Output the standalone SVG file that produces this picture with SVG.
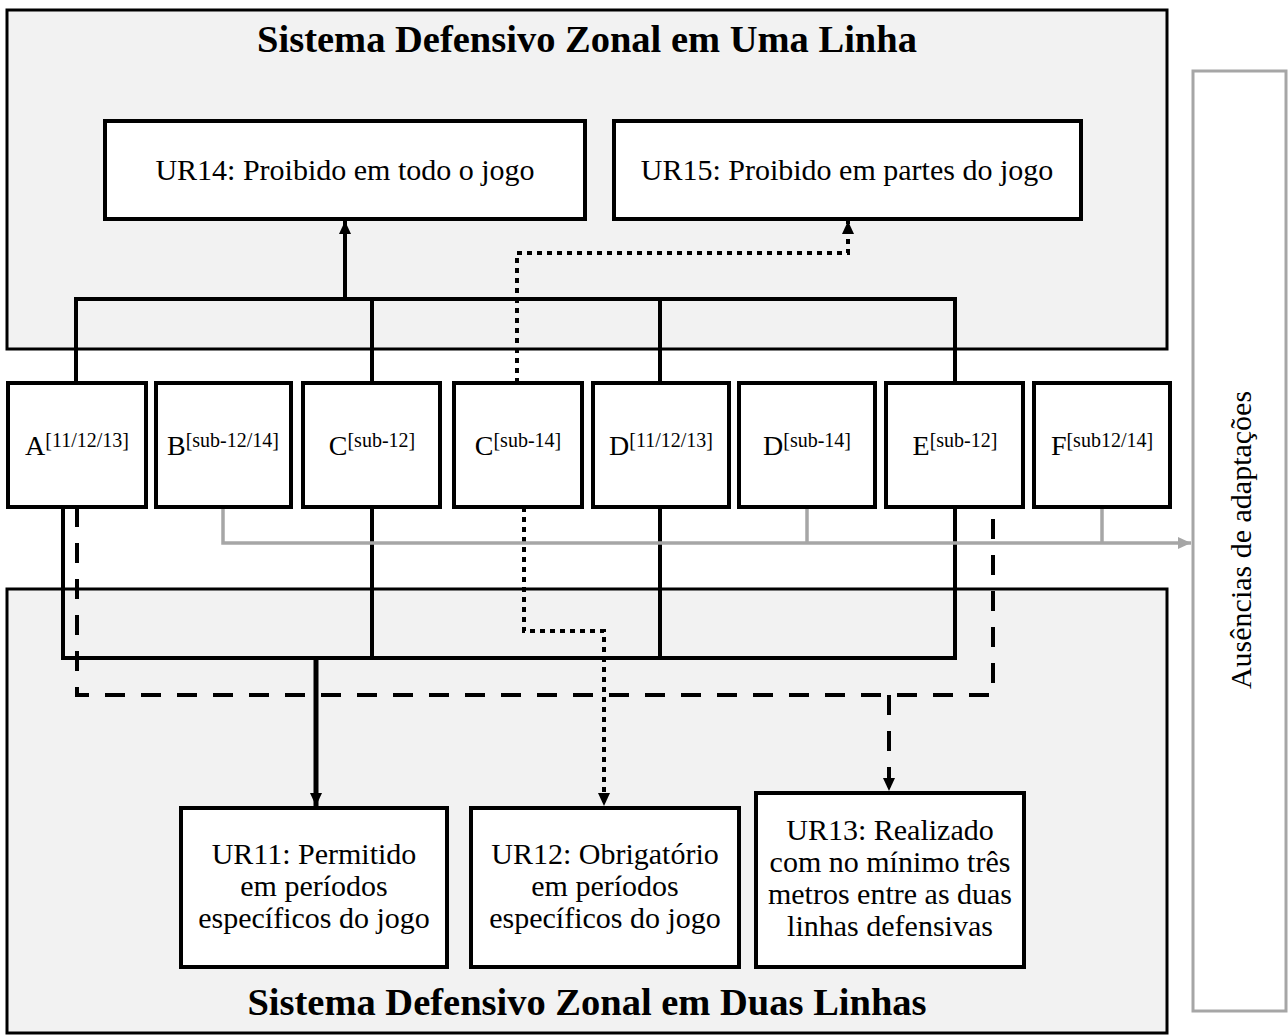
<svg xmlns="http://www.w3.org/2000/svg" width="1288" height="1035" viewBox="0 0 1288 1035">
<defs>
<style>
.container{fill:#f2f2f2;stroke:#000;stroke-width:3}
.box{fill:#fff;stroke:#000;stroke-width:4}
.t{font-family:"Liberation Serif","Times New Roman",serif;fill:#000;text-anchor:middle}
.title{font-size:38.5px;font-weight:bold}
.lbl{font-size:30px}
.nl{font-size:28px}
.sup{font-size:20px}
.solid{fill:none;stroke:#000;stroke-width:4}
.thick{fill:none;stroke:#000;stroke-width:5}
.dot{fill:none;stroke:#000;stroke-width:4;stroke-dasharray:5 5}
.dash{fill:none;stroke:#000;stroke-width:4;stroke-dasharray:20 16}
.gray{fill:none;stroke:#a6a6a6;stroke-width:3.5}
</style>
<marker id="ah" markerUnits="userSpaceOnUse" markerWidth="14" markerHeight="14" refX="13" refY="7" orient="auto"><path d="M0,1 L13,7 L0,13 z" fill="#000"/></marker>
<marker id="ahg" markerUnits="userSpaceOnUse" markerWidth="14" markerHeight="14" refX="13" refY="7" orient="auto"><path d="M0,1 L13,7 L0,13 z" fill="#a6a6a6"/></marker>
</defs>
<rect width="1288" height="1035" fill="#fff"/>
<g id="uma-linha">
<rect class="container" x="7" y="10" width="1160" height="339"/>
<text class="t title" x="587" y="52">Sistema Defensivo Zonal em Uma Linha</text>
</g>
<g id="duas-linhas">
<rect class="container" x="7" y="589" width="1160" height="444"/>
<text class="t title" x="587" y="1015">Sistema Defensivo Zonal em Duas Linhas</text>
</g>
<g id="ausencias">
<rect x="1193" y="71" width="93" height="940" fill="#fff" stroke="#a6a6a6" stroke-width="3"/>
<text class="t lbl" transform="translate(1251,540) rotate(-90)">Ausências de adaptações</text>
</g>
<g id="connectors">
<path class="solid" d="M76,383 V299 H955 V383 M372,299 V383 M660,299 V383"/>
<path class="solid" d="M345,299 V221" marker-end="url(#ah)"/>
<path class="dot" d="M517,383 V253 H848 V221" marker-end="url(#ah)"/>
<path class="solid" d="M63,507 V658 H955 V507 M372,507 V658 M660,507 V658"/>
<path class="thick" d="M316,658 V806" marker-end="url(#ah)"/>
<path class="dash" d="M77,507 V695 H993 V507"/>
<path class="dash" d="M889,695 V791" marker-end="url(#ah)"/>
<path class="dot" d="M524,507 V631 H604 V806" marker-end="url(#ah)"/>
<path class="gray" d="M223,507 V543 H1191" marker-end="url(#ahg)"/>
<path class="gray" d="M807,507 V543 M1102,507 V543"/>
</g>
<g id="ur14"><rect class="box" x="105" y="121" width="480" height="98"/><text class="t lbl" x="345" y="180">UR14: Proibido em todo o jogo</text></g>
<g id="ur15"><rect class="box" x="614" y="121" width="467" height="98"/><text class="t lbl" x="847" y="180">UR15: Proibido em partes do jogo</text></g>
<g id="nA"><rect class="box" x="8" y="383" width="138" height="124"/><text class="t nl" x="77" y="455">A<tspan class="sup" dy="-8">[11/12/13]</tspan></text></g>
<g id="nB"><rect class="box" x="156" y="383" width="135" height="124"/><text class="t nl" x="223" y="455">B<tspan class="sup" dy="-8">[sub-12/14]</tspan></text></g>
<g id="nC12"><rect class="box" x="303" y="383" width="137" height="124"/><text class="t nl" x="372" y="455">C<tspan class="sup" dy="-8">[sub-12]</tspan></text></g>
<g id="nC14"><rect class="box" x="454" y="383" width="128" height="124"/><text class="t nl" x="518" y="455">C<tspan class="sup" dy="-8">[sub-14]</tspan></text></g>
<g id="nD11"><rect class="box" x="593" y="383" width="136" height="124"/><text class="t nl" x="661" y="455">D<tspan class="sup" dy="-8">[11/12/13]</tspan></text></g>
<g id="nD14"><rect class="box" x="739" y="383" width="136" height="124"/><text class="t nl" x="807" y="455">D<tspan class="sup" dy="-8">[sub-14]</tspan></text></g>
<g id="nE12"><rect class="box" x="886" y="383" width="137" height="124"/><text class="t nl" x="955" y="455">E<tspan class="sup" dy="-8">[sub-12]</tspan></text></g>
<g id="nF"><rect class="box" x="1034" y="383" width="136" height="124"/><text class="t nl" x="1102" y="455">F<tspan class="sup" dy="-8">[sub12/14]</tspan></text></g>
<g id="ur11"><rect class="box" x="181" y="808" width="266" height="159"/><text class="t lbl"><tspan x="314" y="864">UR11: Permitido</tspan><tspan x="314" y="896">em períodos</tspan><tspan x="314" y="928">específicos do jogo</tspan></text></g>
<g id="ur12"><rect class="box" x="471" y="808" width="268" height="159"/><text class="t lbl"><tspan x="605" y="864">UR12: Obrigatório</tspan><tspan x="605" y="896">em períodos</tspan><tspan x="605" y="928">específicos do jogo</tspan></text></g>
<g id="ur13"><rect class="box" x="756" y="793" width="268" height="174"/><text class="t lbl"><tspan x="890" y="840">UR13: Realizado</tspan><tspan x="890" y="872">com no mínimo três</tspan><tspan x="890" y="904">metros entre as duas</tspan><tspan x="890" y="936">linhas defensivas</tspan></text></g>
</svg>
